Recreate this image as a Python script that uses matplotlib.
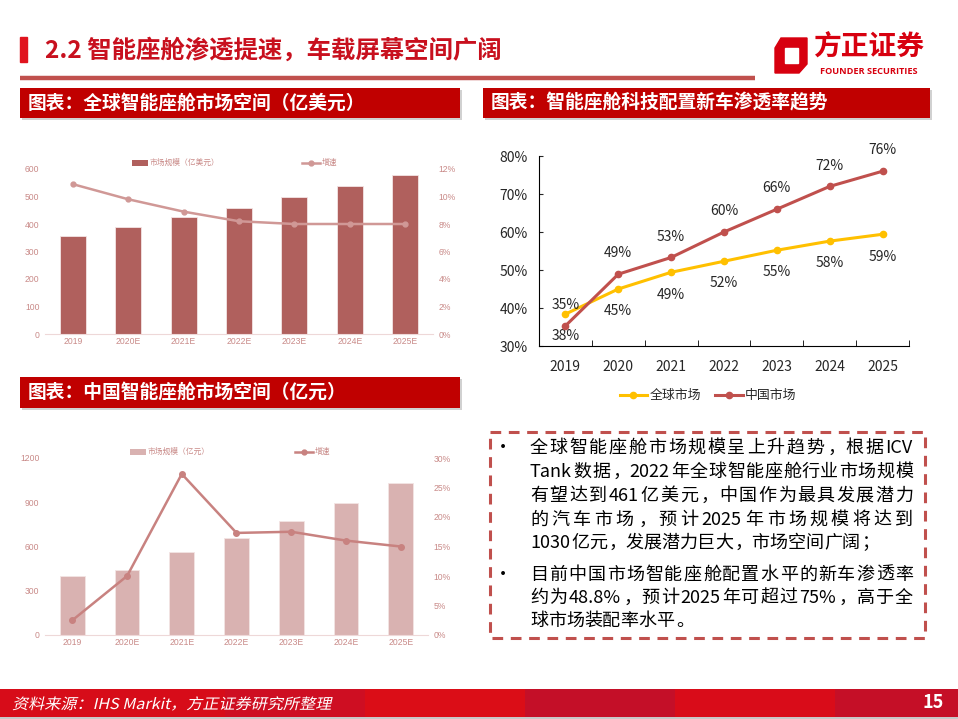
import re
import matplotlib
matplotlib.use('Agg')
import matplotlib.pyplot as plt
import numpy as np
from matplotlib.patches import Rectangle, Polygon, PathPatch
from matplotlib.textpath import TextPath
from matplotlib.font_manager import FontProperties
from matplotlib.transforms import Affine2D

plt.rcParams['font.family'] = ['Noto Sans CJK SC', 'DejaVu Sans']

# --- 数据 ---
years_e = ['2019', '2020E', '2021E', '2022E', '2023E', '2024E', '2025E']
global_size = [355, 390, 425, 460, 497, 537, 578]          # 亿美元
global_growth = [10.9, 9.8, 8.9, 8.2, 8.0, 8.0, 8.0]       # %
china_size = [400, 440, 560, 655, 770, 895, 1030]          # 亿元
china_growth = [2.5, 10.0, 27.3, 17.3, 17.5, 16.0, 15.0]   # %

years = ['2019', '2020', '2021', '2022', '2023', '2024', '2025']
pen_global = [38.4, 45.0, 49.4, 52.3, 55.2, 57.6, 59.4]
pen_china = [35.3, 48.9, 53.3, 60.0, 66.0, 72.0, 76.0]
lab_global = ['38%', '45%', '49%', '52%', '55%', '58%', '59%']
lab_china = ['35%', '49%', '53%', '60%', '66%', '72%', '76%']

W, H = 958, 719
RED = '#C00000'
TICK_C = '#C98A88'

fig = plt.figure(figsize=(W / 100, H / 100), dpi=100)
bg = fig.add_axes([0, 0, 1, 1])
bg.set_xlim(0, W)
bg.set_ylim(H, 0)
bg.axis('off')


def px_axes(x0, y0, x1, y1):
    ax = fig.add_axes([x0 / W, 1 - y1 / H, (x1 - x0) / W, (y1 - y0) / H])
    ax.set_facecolor('none')
    return ax


# --- 标题 ---
bg.add_patch(Rectangle((20, 37), 7, 25, color='#E0141E'))
bg.text(45, 50, '2.2 智能座舱渗透提速，车载屏幕空间广阔', fontsize=17.6, fontweight='bold',
        color='#C8101E', va='center', ha='left')
bg.plot([20, 755], [78, 78], color='#C0504D', lw=3.2, solid_capstyle='butt')

# logo
bg.add_patch(Polygon([(781, 38), (807, 38), (807, 64), (799, 73), (775, 73), (775, 48)],
                     closed=True, color='#D7000F'))
bg.add_patch(Polygon([(785, 48), (798, 48), (798, 63), (785, 63)], closed=True, color='white'))
bg.text(869, 48, '方正证券', fontsize=20, fontweight='bold', color='#D7000F', ha='center', va='center')
bg.text(869, 71, 'FOUNDER SECURITIES', fontsize=6.6, fontweight='bold', color='#D7000F',
        ha='center', va='center', family=['Open Sans', 'DejaVu Sans'])

# --- 小标题框 ---
def header(x0, y0, x1, y1, s):
    bg.add_patch(Rectangle((x0 + 2, y0 + 2), x1 - x0, y1 - y0, color='#9A9A9A', alpha=0.45, lw=0))
    bg.add_patch(Rectangle((x0, y0), x1 - x0, y1 - y0, color=RED, lw=0))
    bg.text(x0 + 8, (y0 + y1) / 2, s, fontsize=13.5, fontweight='bold', color='white',
            ha='left', va='center')


header(20, 88, 460, 118, '图表：全球智能座舱市场空间（亿美元）')
header(483, 88, 930, 118, '图表：智能座舱科技配置新车渗透率趋势')
header(20, 377, 460, 408, '图表：中国智能座舱市场空间（亿元）')


# --- 左侧柱线图 ---
def bar_line(ax, sizes, growth, ymax, ystep, gmax, gstep, bar_c, line_c, bw, lw, ms):
    x = np.arange(len(years_e))
    ax.bar(x, sizes, width=bw, color=bar_c, edgecolor='#F3E4E4', linewidth=0.6, zorder=2)
    ax.set_xlim(-0.5, len(years_e) - 0.5)
    ax.set_ylim(0, ymax)
    ax.set_yticks(np.arange(0, ymax + 1, ystep))
    ax.set_xticks(x)
    ax.set_xticklabels(years_e)
    for s in ['top', 'right', 'left']:
        ax.spines[s].set_visible(False)
    ax.spines['bottom'].set_color('#EED8D8')
    ax.tick_params(length=0, labelsize=6.2, colors=TICK_C, pad=4)
    ax.tick_params(axis='x', pad=2.5)
    ax2 = ax.twinx()
    ax2.plot(x, growth, color=line_c, lw=lw, marker='o', ms=ms, zorder=3)
    ax2.set_ylim(0, gmax)
    ax2.set_yticks(np.arange(0, gmax + 0.1, gstep))
    ax2.set_yticklabels([f'{v:.0f}%' for v in np.arange(0, gmax + 0.1, gstep)])
    for s in ax2.spines.values():
        s.set_visible(False)
    ax2.tick_params(length=0, labelsize=6.2, colors=TICK_C, pad=4)
    for t in ax.get_yticklabels() + ax.get_xticklabels() + ax2.get_yticklabels():
        t.set_family(['Liberation Sans', 'DejaVu Sans'])


ax_g = px_axes(45, 169, 433, 334)
bar_line(ax_g, global_size, global_growth, 600, 100, 12, 2,
         '#B0605D', '#D09896', 0.47, 1.8, 3.5)
ax_c = px_axes(45, 458, 428, 635)
bar_line(ax_c, china_size, china_growth, 1200, 300, 30, 5,
         '#D9B2B1', '#C88280', 0.45, 1.8, 4.0)

# 图例（左侧两图）
def small_legend(y, px0, bar_c, bar_txt, lx0, line_c):
    bg.add_patch(Rectangle((px0, y - 3), 16, 6, color=bar_c, lw=0))
    bg.text(px0 + 18, y, bar_txt, fontsize=5.6, color=TICK_C, va='center', ha='left')
    bg.plot([lx0, lx0 + 18], [y, y], color=line_c, lw=1.8)
    bg.plot([lx0 + 9], [y], 'o', color=line_c, ms=3.5)
    bg.text(lx0 + 20, y, '增速', fontsize=5.6, color=TICK_C, va='center', ha='left')


small_legend(163, 132, '#B0605D', '市场规模（亿美元）', 302, '#D09896')
small_legend(452, 130, '#D9B2B1', '市场规模（亿元）', 295, '#C88280')

# --- 右侧渗透率折线图 ---
ax_p = px_axes(539, 156, 909, 346)
x = np.arange(len(years))
ax_p.plot(x, pen_global, color='#FFC000', lw=2.2, marker='o', ms=4.5, zorder=3)
ax_p.plot(x, pen_china, color='#C0504D', lw=2.2, marker='o', ms=4.5, zorder=4)
for i in range(len(years)):
    ax_p.annotate(lab_china[i], (x[i], pen_china[i]), xytext=(0, 15), textcoords='offset points',
                  ha='center', va='center', fontsize=10, color='#262626')
    ax_p.annotate(lab_global[i], (x[i], pen_global[i]), xytext=(0, -16), textcoords='offset points',
                  ha='center', va='center', fontsize=10, color='#262626')
ax_p.set_xlim(-0.5, len(years) - 0.5)
ax_p.set_ylim(30, 80)
ax_p.set_yticks(np.arange(30, 81, 10))
ax_p.set_yticklabels([f'{v}%' for v in range(30, 81, 10)])
ax_p.set_xticks(x)
ax_p.set_xticklabels(years)
ax_p.set_xticks(np.arange(-0.5, len(years), 1), minor=True)
ax_p.spines['top'].set_visible(False)
ax_p.spines['right'].set_visible(False)
ax_p.spines['left'].set_color('#000000')
ax_p.spines['bottom'].set_color('#000000')
ax_p.tick_params(axis='x', which='major', length=0, labelsize=10, colors='#262626', pad=10)
ax_p.tick_params(axis='x', which='minor', length=4, direction='in', color='#000000')
ax_p.tick_params(axis='y', length=3, direction='in', labelsize=10, colors='#262626', pad=8)

# 图例
bg.plot([620, 647], [395, 395], color='#FFC000', lw=2.2)
bg.plot([633.5], [395], 'o', color='#FFC000', ms=4.5)
bg.text(650, 395, '全球市场', fontsize=9.3, color='#262626', va='center', ha='left')
bg.plot([715, 743], [395, 395], color='#C0504D', lw=2.2)
bg.plot([729], [395], 'o', color='#C0504D', ms=4.5)
bg.text(745, 395, '中国市场', fontsize=9.3, color='#262626', va='center', ha='left')

# --- 文字框 ---
bg.add_patch(Rectangle((490, 432), 435, 206, fill=False, edgecolor='#C0504D', lw=2.2,
                       linestyle=(0, (3.5, 2.5))))

renderer = fig.canvas.get_renderer()
FS = 13
EM = FS * 100 / 72


def text_line(s, y, x0=530, x1=913, justify=True):
    tokens = re.findall(r'[A-Za-z0-9.%]+|.', s)
    items = []
    for t in tokens:
        if re.match(r'[A-Za-z0-9.%]+', t):
            txt = bg.text(0, y, t, fontsize=FS, va='center', ha='left', color='black')
            w = txt.get_window_extent(renderer).width + 1
            items.append((txt, w, 'ascii'))
        else:
            ha = 'left' if t in '，；。：' else 'center'
            txt = bg.text(0, y, t, fontsize=FS, va='center', ha=ha, color='black')
            items.append((txt, EM, ha))
    total = sum(w for _, w, _ in items)
    gap = (x1 - x0 - total) / (len(items) - 1) if justify and len(items) > 1 else 0
    gap = max(gap, 0)
    xx = x0
    for txt, w, kind in items:
        if kind == 'center':
            txt.set_x(xx + w / 2)
        elif kind == 'left':
            txt.set_x(xx + 0.08 * EM)
        else:
            txt.set_x(xx)
        xx += w + gap


para1 = ['全球智能座舱市场规模呈上升趋势，根据ICV',
         'Tank数据，2022年全球智能座舱行业市场规模',
         '有望达到461亿美元，中国作为最具发展潜力',
         '的汽车市场，预计2025年市场规模将达到',
         '1030亿元，发展潜力巨大，市场空间广阔；']
para2 = ['目前中国市场智能座舱配置水平的新车渗透率',
         '约为48.8%，预计2025年可超过75%，高于全',
         '球市场装配率水平。']
ys1 = [448, 472, 496, 520, 543]
ys2 = [575, 598, 621]
for i, (s, y) in enumerate(zip(para1, ys1)):
    text_line(s, y, justify=i < len(para1) - 1)
for i, (s, y) in enumerate(zip(para2, ys2)):
    text_line(s, y, justify=i < len(para2) - 1)
bg.text(503, ys1[0], '•', fontsize=FS, va='center', ha='center')
bg.text(503, ys2[0], '•', fontsize=FS, va='center', ha='center')

# --- 页脚 ---
stripes = [(0, 225, '#D70C19'), (225, 365, '#CE0E22'), (365, 525, '#DB0D17'),
           (525, 675, '#C40F28'), (675, 835, '#D90C19'), (835, 958, '#C50F27')]
for a, b, c in stripes:
    bg.add_patch(Rectangle((a, 689), b - a, 28, color=c, lw=0))
bg.add_patch(Rectangle((0, 717), W, 2, color='#C8C8C8', lw=0))

src = '资料来源：IHS Markit，方正证券研究所整理'
tp = TextPath((0, 0), src, size=15, prop=FontProperties(family='Noto Sans CJK SC'))
ext = tp.get_extents()
sx = 318 / ext.width
tr = Affine2D().skew_deg(12, 0).scale(sx, -1).translate(12, 709) + bg.transData
bg.add_patch(PathPatch(tp, transform=tr, color='white', lw=0))
bg.text(944, 703, '15', fontsize=13, fontweight='bold', color='white', ha='right', va='center')

fig.savefig('out.png', dpi=100)
